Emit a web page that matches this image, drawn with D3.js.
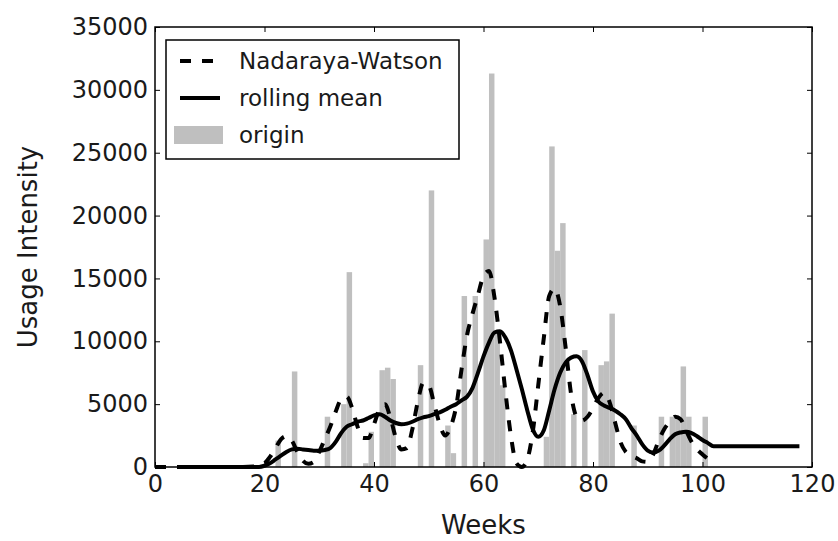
<!DOCTYPE html>
<html>
<head>
<meta charset="utf-8">
<script src="https://cdn.jsdelivr.net/npm/d3@7"></script>
<style>
  body { margin: 0; background: #fff; }
  text { font-family: "DejaVu Sans", sans-serif; }
</style>
</head>
<body>
<script>
// weekly usage (grey bars)
var barWeeks  = [22, 25, 31, 34, 35, 38, 39, 41, 42, 43, 48, 50, 53, 54, 56, 58, 60, 61, 62, 63,
                 71, 72, 73, 74, 76, 78, 81, 82, 83, 87, 92, 94, 95, 96, 97, 100];
var barValues = [2100, 7600, 4000, 5000, 15500, 300, 2800, 7700, 7900, 7000, 8100, 22000, 3300, 1100, 13600, 13600, 18100, 31300, 10600, 6500,
                 2400, 25500, 17200, 19400, 4200, 9300, 8100, 8400, 12200, 3300, 4000, 4000, 4000, 8000, 4000, 4000];

// Nadaraya-Watson estimate (dashed)
var nwWeeks  = [0, 5, 10, 15, 18, 20, 21, 22, 23, 24, 25, 26, 27, 28, 29, 30, 31, 32, 33, 34, 35, 36, 37, 38, 39, 40,
                41, 42, 43, 44, 45, 46, 47, 48, 49, 50, 51, 52, 53, 54, 55, 56, 57, 58, 59, 60, 61, 62, 63, 64, 65,
                66, 67, 68, 69, 70, 71, 72, 73, 74, 75, 76, 77, 78, 79, 80, 81, 82, 83, 84, 85, 86, 87, 88, 89, 90,
                91, 92, 93, 94, 95, 96, 97, 98, 99, 100, 101, 102];
var nwValues = [0, 0, 0, 0, 50, 300, 800, 1500, 2200, 2450, 2100, 1200, 500, 250, 400, 1200, 2200, 3200, 4400, 5400, 5600, 4700, 3200, 2300, 2300, 3400,
                4600, 5000, 3900, 2300, 1400, 1500, 3000, 5200, 6700, 6500, 5000, 3400, 2500, 3200, 4800, 7800, 10500, 12200, 13700, 15200, 15600, 13500, 10000, 6000, 2500,
                300, 0, 600, 2800, 6500, 10200, 13600, 14200, 12800, 9500, 5800, 4000, 3700, 4000, 4700, 5500, 5900, 5200, 3600, 2000, 1200, 900, 700, 450, 400,
                1000, 2100, 3000, 3600, 4000, 3800, 2900, 2000, 1400, 1000, 650, 350];

// rolling mean (solid)
var rmWeeks  = [4.5, 10, 15, 19, 20, 21, 22, 23, 24, 25, 26, 27, 28, 29, 30, 31, 32, 33, 34, 35, 36, 37, 38, 39, 40,
                41, 42, 43, 44, 45, 46, 47, 48, 49, 50, 51, 52, 53, 54, 55, 56, 57, 58, 59, 60, 61, 62, 63, 64, 65,
                66, 67, 68, 69, 70, 71, 72, 73, 74, 75, 76, 77, 78, 79, 80, 81, 82, 83, 84, 85, 86, 87, 88, 89, 90,
                91, 92, 93, 94, 95, 96, 97, 98, 99, 100, 101, 102, 102.8, 117.7];
var rmValues = [0, 0, 0, 0, 100, 300, 600, 900, 1200, 1400, 1450, 1400, 1350, 1300, 1300, 1350, 1500, 2000, 2700, 3200, 3400, 3600, 3700, 3900, 4100,
                4200, 4000, 3700, 3500, 3400, 3450, 3600, 3800, 3950, 4050, 4200, 4350, 4550, 4800, 5000, 5300, 5600, 6300, 7500, 8800, 9900, 10700, 10800, 10300, 9300,
                7800, 6200, 4500, 3000, 2400, 2900, 4500, 6200, 7500, 8300, 8700, 8800, 8400, 7300, 6000, 5200, 4900, 4700, 4500, 4200, 3800, 3100, 2500, 1800, 1300,
                1150, 1300, 1700, 2200, 2600, 2750, 2800, 2700, 2450, 2150, 1900, 1650, 1650, 1650];

var xTicks = [0, 20, 40, 60, 80, 100, 120];
var yTicks = [0, 5000, 10000, 15000, 20000, 25000, 30000, 35000];

var margin = {top: 27, right: 26, bottom: 74, left: 155},
    width = 838 - margin.left - margin.right,
    height = 541 - margin.top - margin.bottom;

var svg = d3.select("body").append("svg")
    .attr("width", 838)
    .attr("height", 541);

var g = svg.append("g")
    .attr("transform", "translate(" + margin.left + "," + margin.top + ")");

var x = d3.scaleLinear().domain([0, 120]).range([0, width]);
var y = d3.scaleLinear().domain([0, 35000]).range([height, 0]);

// bars
g.append("g")
  .selectAll("rect")
  .data(barWeeks)
  .enter().append("rect")
    .attr("x", function(d) { return x(d); })
    .attr("width", function(d) { return x(d + 1) - x(d); })
    .attr("y", function(d, i) { return y(barValues[i]); })
    .attr("height", function(d, i) { return height - y(barValues[i]); })
    .attr("fill", "#bfbfbf");

var nwData = nwWeeks.map(function(w, i) { return [w, nwValues[i]]; });
var rmData = rmWeeks.map(function(w, i) { return [w, rmValues[i]]; });

var line = d3.line()
    .x(function(d) { return x(d[0]); })
    .y(function(d) { return y(d[1]); })
    .curve(d3.curveMonotoneX);

g.append("path")
    .datum(nwData)
    .attr("d", line)
    .attr("fill", "none")
    .attr("stroke", "#000")
    .attr("stroke-width", 4)
    .attr("stroke-dasharray", "11,11");

g.append("path")
    .datum(rmData)
    .attr("d", line)
    .attr("fill", "none")
    .attr("stroke", "#000")
    .attr("stroke-width", 4);

// axes, ticks pointing inward on all four sides
function styleAxis(sel) {
  sel.select(".domain").remove();
  sel.selectAll("line").attr("stroke", "#000").attr("stroke-width", 1);
  sel.selectAll("text").attr("font-size", 24).attr("fill", "#1a1a1a")
     .attr("font-family", "DejaVu Sans");
}

g.append("g")
    .attr("transform", "translate(0," + height + ")")
    .call(d3.axisBottom(x).tickValues(xTicks).tickFormat(d3.format("d")).tickSizeInner(-5).tickSizeOuter(0).tickPadding(8))
    .call(styleAxis);
g.append("g")
    .call(d3.axisTop(x).tickValues(xTicks).tickSizeInner(-5).tickSizeOuter(0).tickFormat(""))
    .call(styleAxis);
g.append("g")
    .call(d3.axisLeft(y).tickValues(yTicks).tickFormat(d3.format("d")).tickSizeInner(-5).tickSizeOuter(0).tickPadding(7))
    .call(styleAxis);
g.append("g")
    .attr("transform", "translate(" + width + ",0)")
    .call(d3.axisRight(y).tickValues(yTicks).tickSizeInner(-5).tickSizeOuter(0).tickFormat(""))
    .call(styleAxis);

g.append("rect")
    .attr("width", width)
    .attr("height", height)
    .attr("fill", "none")
    .attr("stroke", "#000")
    .attr("stroke-width", 1.5);

// axis titles
svg.append("text")
    .attr("x", margin.left + width / 2)
    .attr("y", 534)
    .attr("text-anchor", "middle")
    .attr("font-size", 26)
    .attr("fill", "#1a1a1a")
    .text("Weeks");

svg.append("text")
    .attr("transform", "translate(37," + (margin.top + height / 2) + ") rotate(-90)")
    .attr("text-anchor", "middle")
    .attr("font-size", 26)
    .attr("fill", "#1a1a1a")
    .text("Usage Intensity");

// legend
var legend = svg.append("g").attr("transform", "translate(166,40)");
legend.append("rect")
    .attr("width", 293)
    .attr("height", 119)
    .attr("fill", "#fff")
    .attr("stroke", "#000")
    .attr("stroke-width", 1.5);

var rows = [
  {label: "Nadaraya-Watson", type: "dash", y: 21},
  {label: "rolling mean", type: "line", y: 58},
  {label: "origin", type: "bar", y: 95}
];
rows.forEach(function(r) {
  if (r.type == "bar") {
    legend.append("rect").attr("x", 8).attr("y", r.y - 9).attr("width", 49).attr("height", 18).attr("fill", "#bfbfbf");
  } else {
    legend.append("line")
      .attr("x1", 14).attr("x2", 54).attr("y1", r.y).attr("y2", r.y)
      .attr("stroke", "#000").attr("stroke-width", 4)
      .attr("stroke-dasharray", r.type == "dash" ? "11,11" : null);
  }
  legend.append("text")
    .attr("x", 73)
    .attr("y", r.y)
    .attr("dy", "0.35em")
    .attr("font-size", 23)
    .attr("fill", "#1a1a1a")
    .text(r.label);
});
</script>
</body>
</html>
